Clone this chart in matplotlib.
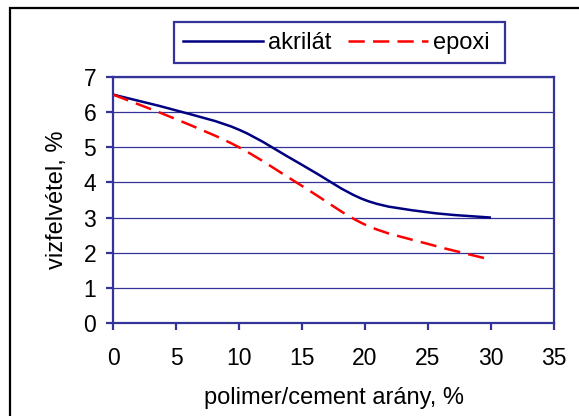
import numpy as np
import matplotlib.pyplot as plt
from matplotlib.path import Path
from matplotlib.patches import PathPatch, Rectangle
from matplotlib.lines import Line2D

plt.rcParams['font.family'] = ['Liberation Sans', 'DejaVu Sans']

# data
x_values = [0, 5, 10, 15, 20, 25, 30]
akrilat = [6.5, 6.05, 5.5, 4.5, 3.5, 3.15, 3.0]
epoxi = [6.5, 5.8, 5.0, 3.9, 2.8, 2.25, 1.8]

series_names = ["akrilát", "epoxi"]
x_ticks = [0, 5, 10, 15, 20, 25, 30, 35]
y_ticks = [0, 1, 2, 3, 4, 5, 6, 7]

AXIS_BLUE = '#333399'
DASH = (0, (6.5, 3.3))


def smooth_path(xs, ys):
    # Excel style smoothed line: cubic bezier segments, catmull-rom control points
    pts = np.column_stack([xs, ys]).astype(float)
    verts = [pts[0]]
    codes = [Path.MOVETO]
    n = len(pts)
    for i in range(n - 1):
        p_prev = pts[i - 1] if i > 0 else pts[i]
        p0 = pts[i]
        p1 = pts[i + 1]
        p_next = pts[i + 2] if i + 2 < n else pts[i + 1]
        c1 = p0 + (p1 - p_prev) / 6.0
        c2 = p1 - (p_next - p0) / 6.0
        verts += [c1, c2, p1]
        codes += [Path.CURVE4] * 3
    return Path(verts, codes)


fig = plt.figure(figsize=(5.79, 4.16), dpi=100)
ax = fig.add_axes([113 / 579, 1 - 323 / 416, 441 / 579, 246 / 416])

# outer chart frame (runs off the right and bottom edges)
fig.patches.append(Rectangle((10 / 579, -0.2), 1.5, 1.2 - 7.5 / 416,
                             transform=fig.transFigure, fill=False,
                             edgecolor='black', linewidth=1.6))

line_akr = PathPatch(smooth_path(x_values, akrilat), facecolor='none',
                     edgecolor='#000080', linewidth=1.8, capstyle='butt', zorder=3)
line_epo = PathPatch(smooth_path(x_values, epoxi), facecolor='none',
                     edgecolor='#ff0000', linewidth=1.8, linestyle=DASH,
                     capstyle='butt', zorder=3)
ax.add_patch(line_akr)
ax.add_patch(line_epo)

ax.set_xlim(0, 35)
ax.set_ylim(0, 7)
ax.set_xticks(x_ticks)
ax.set_yticks(y_ticks)

ax.grid(axis='y', color=AXIS_BLUE, linewidth=0.9)
ax.set_axisbelow(True)
for side in ['left', 'bottom', 'top', 'right']:
    ax.spines[side].set_color(AXIS_BLUE)
    ax.spines[side].set_linewidth(1.6)

ax.tick_params(axis='x', direction='out', length=5, width=1.6, color=AXIS_BLUE,
               labelsize=16.5, pad=12)
ax.tick_params(axis='y', direction='out', length=5, width=1.6, color=AXIS_BLUE,
               labelsize=16.5, pad=7)

ax.set_xlabel("polimer/cement arány, %", fontsize=17)
ax.xaxis.set_label_coords(0.5, (323 - 398) / 246)
ax.xaxis.label.set_verticalalignment('center')
ax.set_ylabel("vizfelvétel, %", fontsize=17)
ax.yaxis.set_label_coords((57 - 113) / 441, 0.5)
ax.yaxis.label.set_verticalalignment('center')

# legend: entries without frame, box drawn separately to match Excel's padding
handles = [Line2D([], [], color='#000080', linewidth=1.8),
           Line2D([], [], color='#ff0000', linewidth=1.8, linestyle=DASH)]
leg = fig.legend(handles, series_names, loc='center', ncol=2,
                 bbox_to_anchor=(336 / 579, 1 - 43 / 416),
                 fontsize=17, frameon=False, handlelength=3.4,
                 handletextpad=0.2, columnspacing=0.7, borderpad=0)
fig.patches.append(Rectangle((174 / 579, 1 - 63 / 416), 331 / 579, 41 / 416,
                             transform=fig.transFigure, fill=False,
                             edgecolor=AXIS_BLUE, linewidth=1.6))

fig.savefig('out.png', dpi=100)
